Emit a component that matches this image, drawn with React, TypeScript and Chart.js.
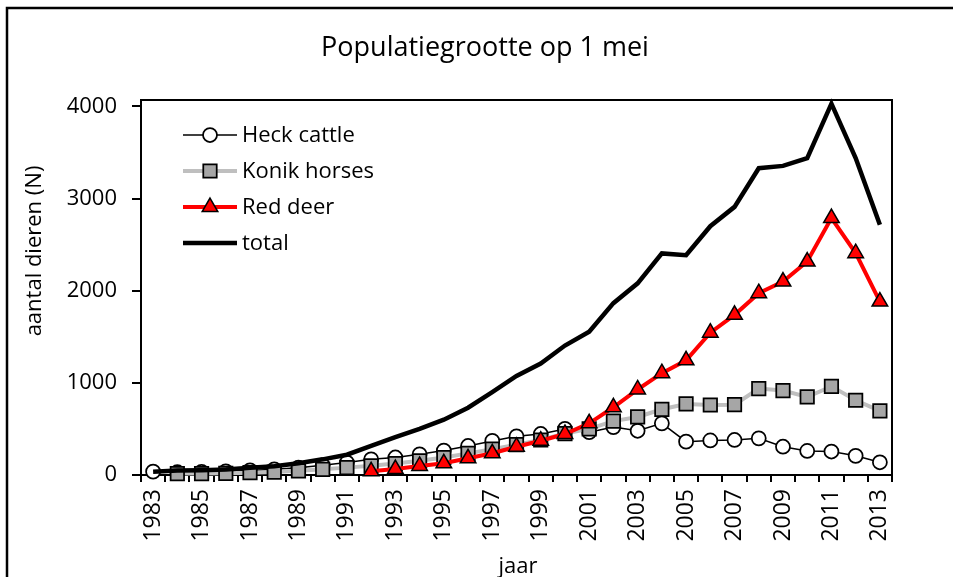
import React, { useEffect, useRef } from 'react';
import { Chart, registerables } from 'chart.js';

Chart.register(...registerables);

const years = [
  '1983', '1984', '1985', '1986', '1987', '1988', '1989', '1990', '1991', '1992',
  '1993', '1994', '1995', '1996', '1997', '1998', '1999', '2000', '2001', '2002',
  '2003', '2004', '2005', '2006', '2007', '2008', '2009', '2010', '2011', '2012', '2013',
];

const heckCattle = [
  36, 30, 35, 40, 50, 62, 80, 105, 135, 170,
  190, 225, 265, 315, 370, 420, 445, 500, 465, 520,
  480, 561, 362, 375, 380, 398, 307, 261, 255, 208, 138,
];

const konikHorses = [
  null, 15, 15, 18, 25, 32, 45, 62, 80, 100,
  125, 155, 190, 235, 280, 330, 380, 450, 500, 585,
  630, 713, 771, 760, 763, 938, 916, 847, 962, 811, 696,
];

const redDeer = [
  null, null, null, null, null, null, null, null, null, 40,
  65, 98, 127, 181, 236, 307, 372, 445, 561, 735,
  928, 1105, 1245, 1545, 1738, 1973, 2100, 2317, 2788, 2408, 1882,
];

const total = [
  36, 48, 52, 60, 78, 96, 128, 170, 220, 315,
  410, 500, 600, 730, 900, 1075, 1210, 1405, 1555, 1865,
  2080, 2405, 2385, 2700, 2910, 3330, 3355, 3440, 4030, 3440, 2715,
];

const yTicks = [0, 1000, 2000, 3000, 4000];

const titleText = 'Populatiegrootte op 1 mei';
const yTitle = 'aantal dieren (N)';
const xTitle = 'jaar';
const seriesNames = ['Heck cattle', 'Konik horses', 'Red deer', 'total'];

const FONT = '"Open Sans", "Noto Sans", sans-serif';

function drawMarker(ctx: CanvasRenderingContext2D, style: string, x: number, y: number, r: number) {
  ctx.beginPath();
  if (style === 'circle') {
    ctx.arc(x, y, r, 0, Math.PI * 2);
  } else if (style === 'rect') {
    const s = Math.SQRT1_2 * r;
    ctx.rect(x - s, y - s, 2 * s, 2 * s);
  } else if (style === 'triangle') {
    let rad = 0;
    ctx.moveTo(x + Math.sin(rad) * r, y - Math.cos(rad) * r);
    rad += (2 * Math.PI) / 3;
    ctx.lineTo(x + Math.sin(rad) * r, y - Math.cos(rad) * r);
    rad += (2 * Math.PI) / 3;
    ctx.lineTo(x + Math.sin(rad) * r, y - Math.cos(rad) * r);
    ctx.closePath();
  }
  ctx.fill();
  ctx.stroke();
}

const decorPlugin = {
  id: 'decor',
  beforeDatasetsDraw(chart: any) {
    const { ctx, chartArea } = chart;
    ctx.save();
    ctx.strokeStyle = '#000';
    ctx.lineWidth = 2;
    ctx.beginPath();
    ctx.moveTo(chartArea.left, chartArea.top);
    ctx.lineTo(chartArea.right, chartArea.top);
    ctx.lineTo(chartArea.right, chartArea.bottom);
    ctx.stroke();
    ctx.restore();
  },
  afterDraw(chart: any) {
    const { ctx } = chart;
    ctx.save();
    // outer frame
    ctx.strokeStyle = '#000';
    ctx.lineWidth = 2.5;
    ctx.beginPath();
    ctx.moveTo(7, 577);
    ctx.lineTo(7, 8);
    ctx.lineTo(953, 8);
    ctx.stroke();

    // title
    ctx.fillStyle = '#000';
    ctx.font = `27px ${FONT}`;
    ctx.textAlign = 'center';
    ctx.textBaseline = 'alphabetic';
    ctx.fillText(titleText, 485, 56);

    // x title
    ctx.font = `22px ${FONT}`;
    ctx.fillText(xTitle, 518, 573);

    // y title
    ctx.save();
    ctx.translate(35, 251);
    ctx.rotate(-Math.PI / 2);
    ctx.textBaseline = 'middle';
    ctx.fillText(yTitle, 0, 0);
    ctx.restore();

    // legend
    const rows = [135, 171, 207, 243];
    [0, 1, 2, 3].forEach((di, k) => {
      const ds = chart.data.datasets[di];
      const y = rows[k];
      ctx.strokeStyle = ds.borderColor;
      ctx.lineWidth = ds.borderWidth;
      ctx.beginPath();
      ctx.moveTo(183, y);
      ctx.lineTo(237, y);
      ctx.stroke();
      if (ds.pointRadius > 0) {
        ctx.fillStyle = ds.pointBackgroundColor;
        ctx.strokeStyle = ds.pointBorderColor;
        ctx.lineWidth = ds.pointBorderWidth;
        drawMarker(ctx, ds.pointStyle, 210, y, ds.pointRadius);
      }
      ctx.fillStyle = '#000';
      ctx.font = `22px ${FONT}`;
      ctx.textAlign = 'left';
      ctx.textBaseline = 'middle';
      ctx.fillText(seriesNames[k], 242, y + 1);
    });
    ctx.restore();
  },
};

export default function App() {
  const ref = useRef<HTMLCanvasElement>(null);

  useEffect(() => {
    const canvas = ref.current;
    if (!canvas) return;
    const chart = new Chart(canvas, {
      type: 'line',
      data: {
        labels: years,
        datasets: [
          {
            label: seriesNames[0],
            data: heckCattle,
            borderColor: '#000000',
            borderWidth: 1.5,
            pointStyle: 'circle',
            pointRadius: 7,
            pointBackgroundColor: '#ffffff',
            pointBorderColor: '#000000',
            pointBorderWidth: 1.75,
            order: 4,
            clip: false,
          },
          {
            label: seriesNames[1],
            data: konikHorses,
            borderColor: '#bfbfbf',
            borderWidth: 4,
            pointStyle: 'rect',
            pointRadius: 9.5,
            pointBackgroundColor: '#a6a6a6',
            pointBorderColor: '#000000',
            pointBorderWidth: 1.75,
            order: 3,
            clip: false,
          },
          {
            label: seriesNames[2],
            data: redDeer,
            borderColor: '#ff0000',
            borderWidth: 4,
            pointStyle: 'triangle',
            pointRadius: 9,
            pointBackgroundColor: '#ff0000',
            pointBorderColor: '#000000',
            pointBorderWidth: 1.5,
            order: 2,
            clip: false,
          },
          {
            label: seriesNames[3],
            data: total,
            borderColor: '#000000',
            borderWidth: 4.5,
            pointRadius: 0,
            order: 1,
            clip: false,
          },
        ] as any,
      },
      options: {
        responsive: false,
        animation: false,
        events: [],
        layout: { padding: { left: 0, top: 100, right: 61, bottom: 0 } },
        plugins: {
          legend: { display: false },
          tooltip: { enabled: false },
          title: { display: false },
        },
        elements: { line: { tension: 0 } },
        scales: {
          x: {
            type: 'category',
            offset: true,
            grid: {
              offset: true,
              drawOnChartArea: false,
              drawTicks: true,
              tickLength: 7,
              color: '#000',
              lineWidth: 2,
            },
            border: { display: true, color: '#000', width: 2 },
            ticks: {
              autoSkip: false,
              maxRotation: 90,
              minRotation: 90,
              padding: 7,
              color: '#000',
              font: { family: FONT, size: 23 },
              callback: (_v: any, i: number) => (i % 2 === 0 ? years[i] : ''),
            },
            afterFit: (scale: any) => {
              scale.height = 102;
              scale.paddingLeft = 0;
              scale.paddingRight = 0;
            },
          },
          y: {
            type: 'linear',
            min: 0,
            max: 4070,
            grid: {
              drawOnChartArea: false,
              drawTicks: true,
              tickLength: 9,
              color: '#000',
              lineWidth: 2,
            },
            border: { display: true, color: '#000', width: 2 },
            ticks: {
              padding: 15,
              color: '#000',
              font: { family: FONT, size: 22 },
              callback: (v: any) => String(v),
            },
            afterBuildTicks: (scale: any) => {
              scale.ticks = yTicks.map((v) => ({ value: v }));
            },
            afterFit: (scale: any) => {
              scale.width = 141;
              scale.paddingTop = 0;
              scale.paddingBottom = 0;
            },
          },
        },
      } as any,
      plugins: [decorPlugin],
    });
    return () => chart.destroy();
  }, []);

  return (
    <div style={{ position: 'absolute', left: 0, top: 0, width: 953, height: 577, background: '#fff' }}>
      <canvas ref={ref} width={953} height={577} style={{ display: 'block', width: 953, height: 577 }} />
    </div>
  );
}
